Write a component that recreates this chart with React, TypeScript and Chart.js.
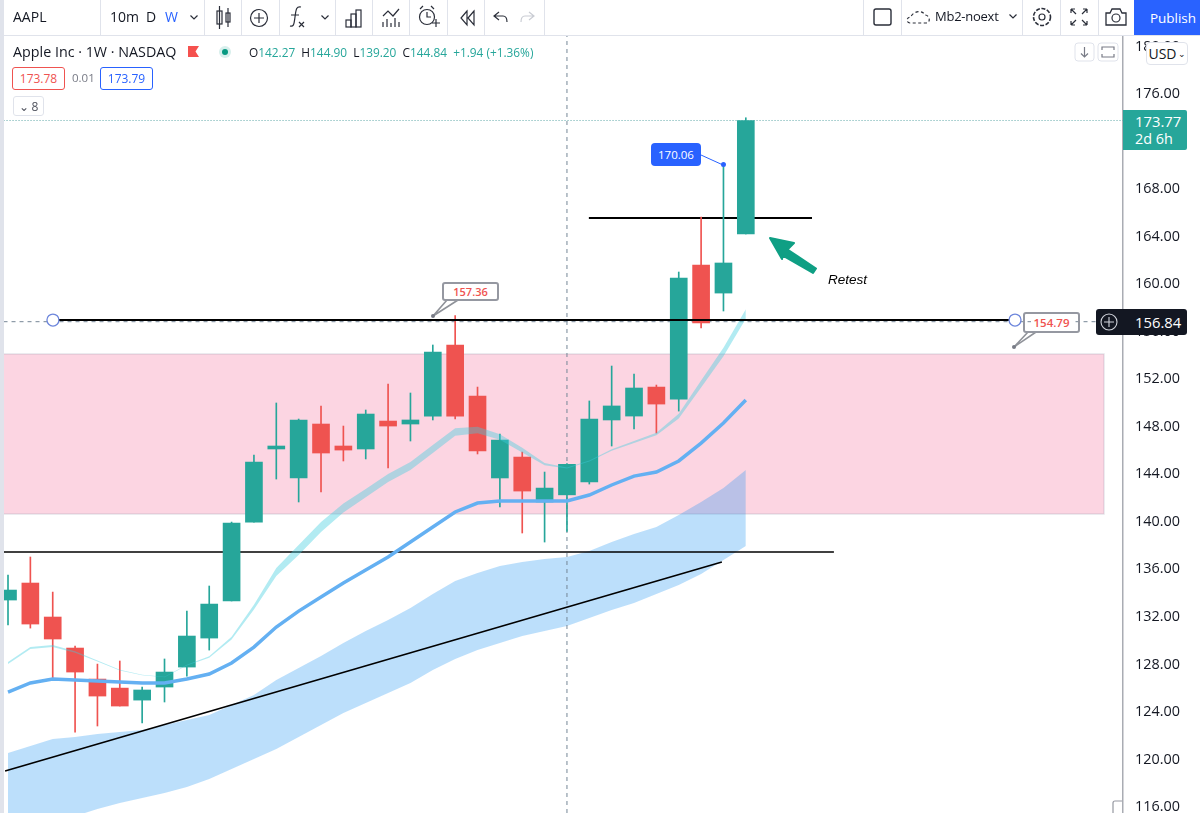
import React, { useEffect, useRef } from "react";
import { Chart, registerables } from "chart.js";

Chart.register(...registerables);

const opens = [133.42,134.85,131.99,129.38,126.77,126.01,125.0,126.1,127.78,130.22,133.34,139.98,146.13,143.69,148.23,146.38,146.13,148.48,148.23,148.9,154.88,150.59,143.69,145.45,141.67,142.27,143.35,148.57,148.9,151.34,150.33,161.61,159.25,164.22];
const highs = [135.52,137.04,134.09,129.55,128.03,128.29,126.1,128.46,132.49,134.6,139.98,145.62,150.0,148.65,149.75,148.06,149.41,151.6,150.84,154.88,157.36,151.34,147.39,145.87,144.19,144.9,150.17,153.11,152.44,151.51,161.02,165.65,170.06,174.0];
const lows = [131.32,131.06,126.77,122.31,122.82,124.5,123.07,124.84,127.02,129.21,133.34,139.98,143.6,141.67,142.51,145.12,145.29,144.53,146.8,148.57,148.65,145.71,141.25,139.06,138.3,139.2,143.18,146.38,147.81,147.47,149.32,156.31,157.74,164.22];
const closes = [134.26,131.4,130.14,127.36,125.34,124.5,125.85,127.36,130.39,133.08,139.9,145.03,146.38,148.57,145.79,146.04,149.07,148.06,148.57,154.29,148.9,145.96,146.88,142.59,142.84,144.84,148.65,149.75,151.26,149.91,160.52,156.73,161.78,173.77];

const tealUpper = [128.20,129.46,129.63,129.10,128.33,127.56,127.13,126.96,127.98,128.68,130.34,133.03,136.12,138.05,139.98,141.54,142.77,144.02,145.03,146.46,147.87,148.00,147.38,146.24,144.95,144.57,145.16,146.10,146.80,147.50,149.10,151.90,154.65,157.89];
const tealLower = [128.04,129.30,129.47,128.98,128.25,127.50,127.09,126.92,127.92,128.56,130.10,132.63,135.44,137.21,139.14,140.78,142.07,143.36,144.37,145.80,147.25,147.46,146.90,145.84,144.77,144.49,145.08,145.98,146.64,147.28,148.70,151.30,153.93,157.09];
const blueLine = [125.68,126.44,126.77,126.69,126.60,126.52,126.44,126.44,126.77,127.19,128.12,129.46,131.15,132.49,133.67,134.85,135.94,137.04,138.30,139.56,140.83,141.58,141.75,141.75,141.75,141.75,142.26,143.1,143.85,144.19,145.12,146.63,148.31,150.25];
const cloudUpper = [120.54,121.13,121.72,121.89,122.14,122.31,122.48,122.90,123.32,123.74,124.58,125.43,126.69,127.70,128.71,129.80,130.81,131.74,132.75,133.92,135.02,135.69,136.28,136.62,136.87,137.04,137.54,138.30,138.97,139.56,140.57,141.67,142.84,144.36];
const cloudLower = [114.07,114.49,114.91,115.24,115.83,116.34,116.76,117.18,117.68,118.36,119.20,120.04,120.88,121.89,122.90,123.91,124.75,125.59,126.44,127.53,128.46,129.21,129.80,130.39,130.81,131.23,131.91,132.58,133.17,133.92,134.68,135.61,136.79,137.96];

const PINK_TOP = 154.12;
const PINK_BOTTOM = 140.66;
const LEVEL_A = 156.98;
const LEVEL_B = 165.57;
const LEVEL_C = 137.46;
const CROSS_PRICE = 156.84;
const LAST_PRICE = 173.77;
const PEAK_PRICE = 170.06;
const trendStart = { x: -0.13, y: 119.03 };
const trendEnd = { x: 31.93, y: 136.62 };

const GREEN = "#26a69a";
const RED = "#ef5350";
const INK = "#131722";
const FONT = '"Open Sans", "Noto Sans", sans-serif';

const line = (pts: { x: number; y: number }[], color: string, width: number, order: number, extra: object = {}) => ({
  type: "line",
  data: pts,
  borderColor: color,
  backgroundColor: color,
  borderWidth: width,
  pointRadius: 0,
  tension: 0,
  fill: false,
  order,
  ...extra,
});

const band = (vals: number[], order: number, fill: any, bg: string) => ({
  type: "line",
  data: vals.map((y, x) => ({ x, y })),
  borderWidth: 0,
  borderColor: "transparent",
  backgroundColor: bg,
  pointRadius: 0,
  tension: 0,
  fill,
  order,
});

function ChartCanvas() {
  const ref = useRef<HTMLCanvasElement>(null);
  useEffect(() => {
    if (!ref.current) return;
    const xMin = -0.358;
    const xMax = 49.87;
    const candleColor = closes.map((c, i) => (c >= opens[i] ? GREEN : RED));
    const datasets: any[] = [
      line([{ x: -0.2, y: PINK_TOP }, { x: 49.02, y: PINK_TOP }], "transparent", 0, 100, {
        fill: { value: PINK_BOTTOM },
        backgroundColor: "#fcd5e2",
      }),
      line(
        [
          { x: -0.2, y: PINK_TOP },
          { x: 49.02, y: PINK_TOP },
          { x: 49.02, y: PINK_BOTTOM },
          { x: -0.2, y: PINK_BOTTOM },
        ],
        "rgba(150,150,170,0.25)",
        1.5,
        99
      ),
      band(cloudUpper, 90, "+1", "rgba(33,150,243,0.3)"),
      band(cloudLower, 90, false, "transparent"),
      line([{ x: 25.98, y: LEVEL_B }, { x: 35.96, y: LEVEL_B }], "#000000", 2, 80),
      line([{ x: -0.2, y: LEVEL_C }, { x: 36.94, y: LEVEL_C }], "#000000", 1.6, 80),
      line([trendStart, trendEnd], "#000000", 1.6, 79),
      line([{ x: 25, y: 115.5 }, { x: 25, y: 180.88 }], "#758696", 1, 75, { borderDash: [4, 4] }),
      line([{ x: -0.2, y: CROSS_PRICE }, { x: xMax, y: CROSS_PRICE }], "#758696", 1, 75, { borderDash: [4, 4] }),
      line([{ x: -0.2, y: LAST_PRICE }, { x: xMax, y: LAST_PRICE }], "#5fa8a8", 1, 75, { borderDash: [1, 2] }),
      {
        type: "bar",
        data: highs.map((h, i) => ({ x: i, y: [lows[i], h] })),
        backgroundColor: candleColor,
        barThickness: 1,
        grouped: false,
        order: 60,
      },
      {
        type: "bar",
        data: opens.map((o, i) => ({ x: i, y: [Math.min(o, closes[i]), Math.max(o, closes[i])] })),
        backgroundColor: candleColor,
        barThickness: 17,
        grouped: false,
        order: 59,
      },
      band(tealUpper, 40, "+1", "rgba(62,205,222,0.4)"),
      band(tealLower, 40, false, "transparent"),
      line(blueLine.map((y, x) => ({ x, y })), "#64b0f2", 3.5, 39),
      line([{ x: 2.01, y: LEVEL_A }, { x: 45.04, y: LEVEL_A }], "#000000", 2, 10, {
        pointRadius: 6,
        pointBackgroundColor: "#ffffff",
        pointBorderColor: "#6d86dc",
        pointBorderWidth: 1.3,
      }),
      line([{ x: 32, y: PEAK_PRICE }], "#2962ff", 0, 5, { pointRadius: 2.5, pointBackgroundColor: "#2962ff", pointBorderWidth: 0 }),
    ];
    const chart = new Chart(ref.current, {
      type: "bar",
      data: { datasets },
      options: {
        animation: false,
        responsive: false,
        layout: { autoPadding: false, padding: { top: 36, left: 0, right: 0, bottom: 0 } },
        plugins: { legend: { display: false }, tooltip: { enabled: false } },
        events: [],
        scales: {
          x: { type: "linear", min: xMin, max: xMax, display: false, offset: false, grid: { display: false } },
          y: {
            type: "linear",
            position: "right",
            min: 115.5,
            max: 180.88,
            afterFit: (s: any) => {
              s.width = 77;
              s.paddingTop = 0;
              s.paddingBottom = 0;
            },
            grid: { display: false, drawTicks: false },
            border: { color: "#a9acb3", width: 1.5 },
            ticks: {
              stepSize: 4,
              includeBounds: false,
              autoSkip: false,
              padding: 12,
              color: INK,
              font: { family: FONT, size: 14.4 },
              callback: (v: any) => Number(v).toFixed(2),
            },
          },
        },
      },
    } as any);
    return () => chart.destroy();
  }, []);
  return <canvas ref={ref} width={1200} height={813} style={{ position: "absolute", left: 0, top: 0, display: "block" }} />;
}

const abs = (left: number, top: number, extra: React.CSSProperties = {}): React.CSSProperties => ({
  position: "absolute",
  left,
  top,
  whiteSpace: "nowrap",
  ...extra,
});

const T = ({ x, y, s = 14, c = INK, w = 400, children, style = {} }: any) => (
  <div style={abs(x, y, { fontSize: s, color: c, fontWeight: w, lineHeight: `${Math.round(s + 4)}px`, ...style })}>{children}</div>
);

const sepX = [100, 204, 241, 279, 335, 372, 409, 447, 484, 544, 863, 901, 1022, 1060, 1098];

function Icons() {
  const st = { fill: "none", stroke: "#2a2e39", strokeWidth: 1.2 };
  const chev = (x: number, y: number) => <path d={`M${x - 3.5} ${y - 1.5}L${x} ${y + 2}L${x + 3.5} ${y - 1.5}`} {...st} />;
  return (
    <svg width={1200} height={813} style={{ position: "absolute", left: 0, top: 0 }}>
      {chev(194, 17)}
      <g {...st}>
        <rect x={217} y={11} width={5} height={13} />
        <path d="M219.5 6V29" />
        <rect x={226} y={13} width={4} height={9} />
        <path d="M228 8V27" />
        <circle cx={259} cy={18} r={8.5} />
        <path d="M259 13V23M254 18H264" />
        <path d="M301 7C296 6 296 10 295 17C294 24 294 27 290 26M291 15H299" />
        <path d="M299 22L304 27M304 22L299 27" />
      </g>
      {chev(325, 17)}
      <g {...st}>
        <rect x={346} y={20} width={5} height={7} />
        <rect x={351} y={14} width={5} height={13} />
        <rect x={356} y={10} width={5} height={17} />
        <path d="M383 16L388 11L393 16L399 9" />
        <path d="M383 27V22M387 27V19M391 27V23M395 27V18M399 27V22" />
        <circle cx={427} cy={17} r={7.5} />
        <path d="M427 12V17H431M420 9L423 6M434 9L431 6" />
        <path d="M432 23H440M436 19V27" />
        <path d="M467 11L461 18L467 25ZM474 11L468 18L474 25Z" />
        <path d="M499 12L494 16L499 20M494 16H503C506 16 507 19 507 22" />
        <path d="M529 12L534 16L529 20M534 16H525C522 16 521 19 521 22" stroke="#c9ccd3" />
        <rect x={874} y={9} width={17} height={16} rx={2} strokeWidth={1.4} />
        <path d="M910 23C906 23 906 17 911 17C912 12 922 9 925 15C930 15 931 23 926 23Z" strokeDasharray="3 2.5" />
        <circle cx={1042} cy={17} r={3} />
        <circle cx={1042} cy={17} r={8.5} strokeDasharray="4 1.6" strokeWidth={1.6} />
        <path d="M1071 9H1075M1071 9V13M1071 9L1076 14M1087 9H1083M1087 9V13M1087 9L1082 14M1071 25H1075M1071 25V21M1071 25L1076 20M1087 25H1083M1087 25V21M1087 25L1082 20" />
        <path d="M1106 13H1110L1112 9H1120L1122 13H1126V25H1106Z" strokeWidth={1.3} />
        <circle cx={1116} cy={18} r={4} />
      </g>
      {chev(1013, 16)}
      <path d="M188 46H199L195.5 51.5L199 57H188Z" fill="#f5514e" />
      <circle cx={225} cy={52} r={6} fill="#d7efec" />
      <circle cx={225} cy={52} r={3} fill="#089981" />
      <path d="M770 238L794 243L787.5 249.5L816 268.5L813 273L782.5 255.5L782 259Z" fill="#0f9f84" stroke="#0f9f84" strokeWidth={2} strokeLinejoin="round" />
      <path d="M447 300L433 316L458 300" fill="#fff" stroke="#8f9299" strokeWidth={1.6} />
      <circle cx={433} cy={316} r={2} fill="#787b86" />
      <path d="M1036 332L1014 347L1028 332" fill="#fff" stroke="#8f9299" strokeWidth={1.6} />
      <circle cx={1014} cy={347} r={2} fill="#787b86" />
      <line x1={701} y1={155} x2={723} y2={165} stroke="#2962ff" strokeWidth={1} />
      <rect x={1075} y={43} width={19} height={18} rx={3} fill="#fff" stroke="#e0e3eb" />
      <rect x={1098} y={43} width={20} height={18} rx={3} fill="#fff" stroke="#e0e3eb" />
      <path d="M1084.5 47V57M1081 53.5L1084.5 57L1088 53.5" {...st} stroke="#787b86" />
      <path d="M1102 50V47H1114V50M1102 54V57H1114V54" {...st} stroke="#787b86" />
      <path d="M1122 801H1115Q1113 801 1113 803V813" fill="none" stroke="#9598a1" strokeWidth={1.2} />
    </svg>
  );
}

function PlusOnLabel() {
  return (
    <svg width={20} height={20} style={{ position: "absolute", left: 3, top: 3 }}>
      <circle cx={10} cy={10} r={8} fill="none" stroke="#d1d4dc" strokeWidth={1.1} />
      <path d="M10 5V15M5 10H15" stroke="#d1d4dc" strokeWidth={1.1} />
    </svg>
  );
}

const boxText: React.CSSProperties = { display: "flex", alignItems: "center", justifyContent: "center", boxSizing: "border-box" };

export default function App() {
  return (
    <div style={{ position: "fixed", left: 0, top: 0, width: 1200, height: 813, overflow: "hidden", background: "#fff", fontFamily: FONT }}>
      <ChartCanvas />
      <div style={abs(0, 0, { width: 1200, height: 35, background: "#fff", borderBottom: "1px solid #e0e3eb" })} />
      {sepX.map((x) => (
        <div key={x} style={abs(x, 0, { width: 1, height: 35, background: "#e0e3eb" })} />
      ))}
      <div style={abs(0, 0, { width: 4, height: 813, background: "#e0e3eb" })} />
      <Icons />
      <T x={13} y={8} s={14} w={500}>AAPL</T>
      <T x={110} y={8} s={14}>10m</T>
      <T x={146} y={8} s={14}>D</T>
      <T x={165} y={8} s={14} c="#2962ff">W</T>
      <T x={935} y={8} s={13} style={{ letterSpacing: -0.25 }}>Mb2-noext</T>
      <div style={{ ...abs(1134, 0, { width: 66, height: 35, background: "#2962ff", color: "#fff", fontSize: 13.5, paddingLeft: 12 }), ...boxText }}>Publish</div>

      <T x={13} y={43} s={14.3}>Apple Inc · 1W · NASDAQ</T>
      <div style={abs(249, 44, { fontSize: 11.85, lineHeight: "16px", color: GREEN })}>
        <span style={{ color: INK }}>O</span>142.27 <span style={{ color: INK }}>&nbsp;H</span>144.90 <span style={{ color: INK }}>&nbsp;L</span>139.20 <span style={{ color: INK }}>&nbsp;C</span>144.84&nbsp; +1.94 (+1.36%)
      </div>
      <div style={{ ...abs(12, 67, { width: 53, height: 23, border: "1px solid #ef5350", borderRadius: 3, color: "#ef5350", fontSize: 12, background: "#fff" }), ...boxText }}>173.78</div>
      <T x={72} y={70} s={11.5} c="#787b86">0.01</T>
      <div style={{ ...abs(100, 67, { width: 53, height: 23, border: "1px solid #2962ff", borderRadius: 3, color: "#2962ff", fontSize: 12, background: "#fff" }), ...boxText }}>173.79</div>
      <div style={{ ...abs(13, 96, { width: 31, height: 20, border: "1px solid #e0e3eb", borderRadius: 3, color: "#50535e", fontSize: 12, background: "#fff" }), ...boxText }}>⌄ 8</div>

      <div style={{ ...abs(442, 282, { width: 57, height: 19, border: "2px solid #9598a1", borderRadius: 3, background: "#fff", color: "#ef5350", fontSize: 11, fontWeight: 600 }), ...boxText }}>157.36</div>
      <div style={{ ...abs(651, 143, { width: 50, height: 23, borderRadius: 4, background: "#2962ff", color: "#fff", fontSize: 11.5, fontWeight: 500 }), ...boxText }}>170.06</div>
      <div style={{ ...abs(1023, 312, { width: 57, height: 21, border: "2px solid #9598a1", borderRadius: 3, color: "#ef5350", fontSize: 11.5, fontWeight: 600 }), ...boxText }}>
        <span style={{ background: "#fff", padding: "0 2px" }}>154.79</span>
      </div>
      <T x={828} y={271} s={13.5} c="#000" style={{ fontFamily: '"Liberation Sans", sans-serif', fontStyle: "italic" }}>Retest</T>

      <div style={abs(1123, 110, { width: 64, height: 40, background: GREEN, color: "#fff", borderRadius: "0 2px 2px 0" })}>
        <div style={{ position: "absolute", left: 12, top: 2, fontSize: 14.8, fontWeight: 500, lineHeight: "18px" }}>173.77</div>
        <div style={{ position: "absolute", left: 12, top: 20, fontSize: 14.4, lineHeight: "18px" }}>2d 6h</div>
      </div>
      <div style={abs(1096, 309, { width: 91, height: 26, background: "#131722", color: "#fff", borderRadius: 3 })}>
        <PlusOnLabel />
        <div style={{ position: "absolute", left: 39, top: 4, fontSize: 14.8, fontWeight: 500, lineHeight: "18px" }}>156.84</div>
      </div>
      <div style={{ ...abs(1146, 42, { width: 42, height: 23, background: "#fff", border: "1px solid #e0e3eb", borderRadius: 4, fontSize: 14, color: INK }), ...boxText }}>USD<span style={{ fontSize: 9, marginLeft: 1 }}>⌄</span></div>
    </div>
  );
}
